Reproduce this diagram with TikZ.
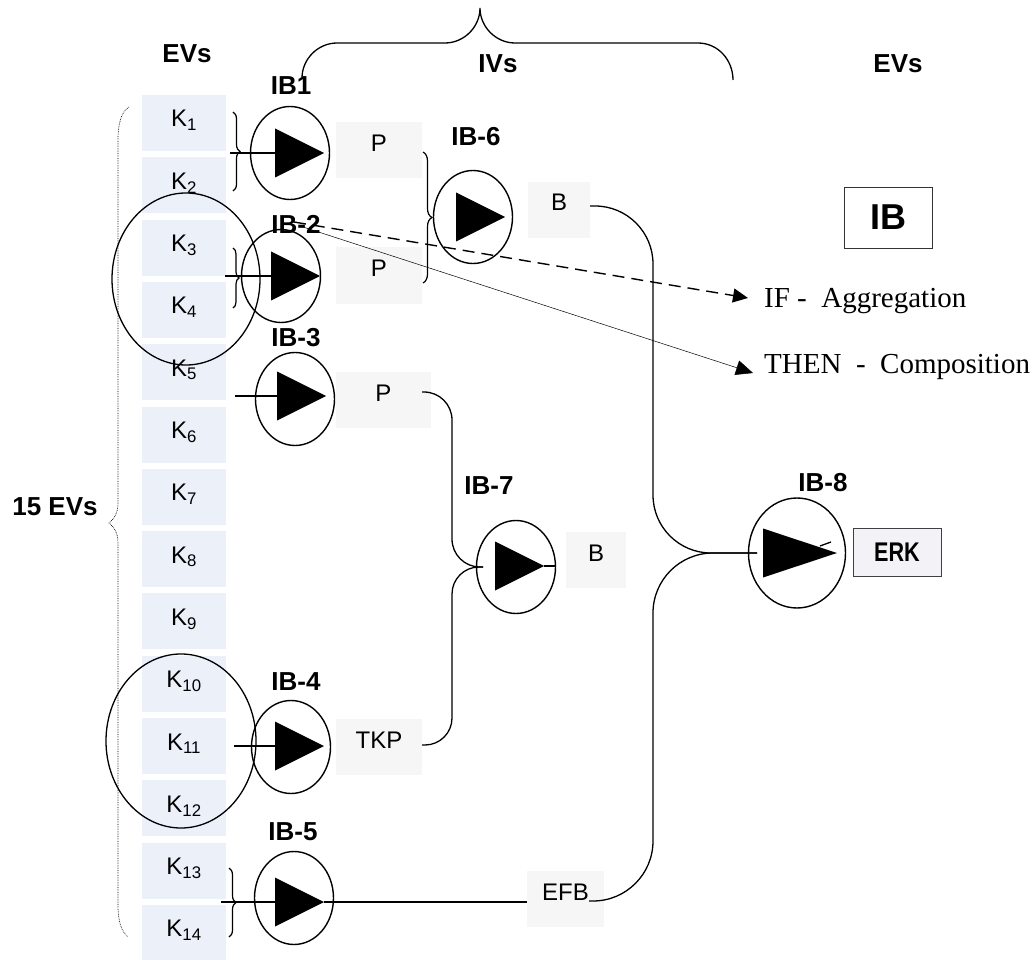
\documentclass[tikz,border=0pt]{standalone}
\usepackage{fontspec}
\setmainfont{Liberation Serif}
\setsansfont{Liberation Sans}
\usetikzlibrary{calc,shapes.geometric,arrows.meta,decorations.pathreplacing}

\definecolor{kblue}{HTML}{ECF0F9}
\definecolor{outgray}{HTML}{F6F6F6}
\definecolor{erkgray}{HTML}{F3F3F7}

\tikzset{
  kbox/.style={fill=kblue, minimum width=84pt, minimum height=56pt, inner sep=0pt,
    font=\sffamily\fontsize{24}{28}\selectfont, text height=16pt, text depth=8pt},
  outbox/.style={fill=outgray, minimum height=56pt, inner sep=0pt,
    font=\sffamily\fontsize{24}{28}\selectfont, text height=16pt, text depth=14pt},
  gate/.style={draw, ellipse, line width=1.4pt, minimum width=79pt, minimum height=93pt, inner sep=0pt},
  tag/.style={font=\sffamily\bfseries\fontsize{26}{30}\selectfont, inner sep=0pt},
  wire/.style={line width=1.3pt},
  bracket/.style={decorate, decoration={brace, amplitude=#1}, line width=1.2pt},
  bracket/.default=7pt
}

\begin{document}
\begin{tikzpicture}[x=1pt, y=-1pt]

    % Canvas
    \useasboundingbox (0,0) rectangle (1034,960);

    % --- Column of external variables K1..K14 ---
    \foreach \i in {1,...,14}{
        \pgfmathsetmacro{\ky}{123+(\i-1)*62.3}
        \node[kbox] (k\i) at (184,\ky) {K\textsubscript{\i}};
    }

    % Output boxes of the blocks
    \node[outbox, minimum width=86pt] (p1) at (379,150.5) {P};
    \node[outbox, minimum width=86pt] (p2) at (379,275.5) {P};
    \node[outbox, minimum width=95pt] (p3) at (383.5,400) {P};
    \node[outbox, minimum width=86pt] (tkp) at (379,747) {TKP};
    \node[outbox, minimum width=62pt] (b6) at (559,210) {B};
    \node[outbox, minimum width=60pt] (b7) at (596,560) {B};
    \node[outbox, minimum width=77pt] (efb) at (565.5,899) {EFB};
    \node[draw=black!75, fill=erkgray, line width=0.9pt, minimum width=88pt, minimum height=48pt,
          inner sep=0pt, font=\sffamily\bfseries\fontsize{27}{30}\selectfont] (erk) at (897,552)
          {\scalebox{0.8}[1]{ERK}};

    % Legend box
    \node[draw=black!80, line width=0.9pt, minimum width=88pt, minimum height=61pt, inner sep=0pt,
          font=\sffamily\bfseries\fontsize{36}{40}\selectfont] (ibkey) at (888,217.5) {IB};

    % --- Headings and block names ---
    \foreach \nm/\x/\y/\t in {evleft/187/54/EVs, ivs/498/64/IVs, evright/898/64/EVs,
        evcount/55/507/15 EVs, ib1lab/291/86/IB1, ib2lab/296/224/IB-2, ib3lab/296/338/IB-3,
        ib4lab/296/682/IB-4, ib5lab/293/832/IB-5, ib6lab/476/137/IB-6, ib7lab/489/486/IB-7,
        ib8lab/823/483/IB-8}{
        \node[tag] (\nm) at (\x,\y) {\t};
    }

    % Groups of K's taken together
    \draw[line width=1.3pt] (186,279) ellipse [x radius=74, y radius=86];
    \draw[line width=1.3pt] (181,741) ellipse [x radius=75, y radius=87];

    % --- First level blocks IB1..IB-5 (circle, triangle, input line) ---
    \foreach \nm/\cx/\cy/\tx/\ty/\sx in {ib1/290/153/275/153/230, ib2/281/276/271/276/225,
        ib3/295/399/277/396/235, ib4/291/747/275/746/234, ib5/294/898/275/902/221}{
        \node[gate] (\nm) at (\cx,\cy) {};
        \fill (\tx,\ty-24.5) -- (\tx+49,\ty) -- (\tx,\ty+24.5) -- cycle;
        \coordinate (\nm-in) at (\tx,\ty);
        \coordinate (\nm-out) at (\tx+49,\ty);
        \coordinate (\nm-src) at (\sx,\ty);
        \draw[wire] (\nm-src) -- (\nm-in);
    }

    % Second level blocks
    \node[gate] (ib6) at (473,217) {};
    \fill (456,192.5) -- (505,217) -- (456,241.5) -- cycle;
    \node[gate] (ib7) at (516,567) {};
    \fill (495,541.5) -- (544,566) -- (495,590.5) -- cycle;
    \coordinate (ib7-in) at (483,567);
    \draw[wire] (544,566) -- (555,566);

    % Final block
    \node[gate, minimum width=97pt, minimum height=110pt] (ib8) at (797,553) {};
    \fill (763,528.5) -- (837,553) -- (763,577.5) -- cycle;
    \coordinate (ib8-in) at (757,553);
    \draw[wire] (820,546) -- (831,542);

    % --- Braces ---
    \draw[bracket] (233,112) -- (233,191);
    \draw[bracket=6pt] (233,248) -- (233,308);
    \draw[bracket] (229,868) -- (229,937);
    \draw[bracket=9pt] (423,152) -- (423,283);

    % dotted brace of the 15 EVs
    \draw[densely dotted, line width=0.7pt] (129,107) .. controls (121,112) and (118,124) .. (118,140)
        -- (118,503) .. controls (118,514) and (113,520) .. (109,523)
        .. controls (113,526) and (118,532) .. (118,543)
        -- (118,905) .. controls (118,921) and (121,931) .. (128,937);

    % brace over the IVs
    \draw[line width=1.3pt] (302,78) .. controls (302,59) and (318,43) .. (337,43) -- (445,43)
        .. controls (464,43) and (480,27) .. (480,8)
        .. controls (480,27) and (496,43) .. (515,43) -- (698,43)
        .. controls (718,43) and (733,60) .. (733,80);

    % --- Connectors ---
    \draw[wire, rounded corners=28pt] ([xshift=-9pt,yshift=8pt]p3.east) -- (452,392) -- (452,567) -- (ib7-in);
    \draw[wire, rounded corners=27pt] ([yshift=2pt]tkp.east) -- (452,745) -- (452,567) -- (ib7-in);
    \draw[wire] (ib5-out) -- ([yshift=-3pt]efb.west);
    \draw[wire, rounded corners=58pt] ([yshift=4pt]b6.east) -- (653,206) -- (653,553) -- (ib8-in);
    \draw[wire, rounded corners=60pt] ([xshift=-15pt,yshift=-2pt]efb.east) -- (653,901) -- (653,553) -- (ib8-in);

    % --- Meaning of the block ---
    \node[anchor=base west, inner sep=0pt, font=\fontsize{29}{33}\selectfont] (iftext) at (764,307)
        {IF -\ \ Aggregation};
    \node[anchor=base west, inner sep=0pt, font=\fontsize{29}{33}\selectfont] (thentext) at (764,373)
        {THEN\ \ -\ \ Composition};
    \coordinate (ifstart) at (294,222);
    \coordinate (ifend) at (748,298);
    \coordinate (thenstart) at (300,226);
    \coordinate (thenend) at (753,373);
    \draw[line width=1.4pt, dash pattern=on 12pt off 7pt, -{Triangle[length=15pt,width=14pt]}] (ifstart) -- (ifend);
    \draw[line width=0.5pt, -{Triangle[length=17pt,width=15pt]}] (thenstart) -- (thenend);

\end{tikzpicture}
\end{document}
